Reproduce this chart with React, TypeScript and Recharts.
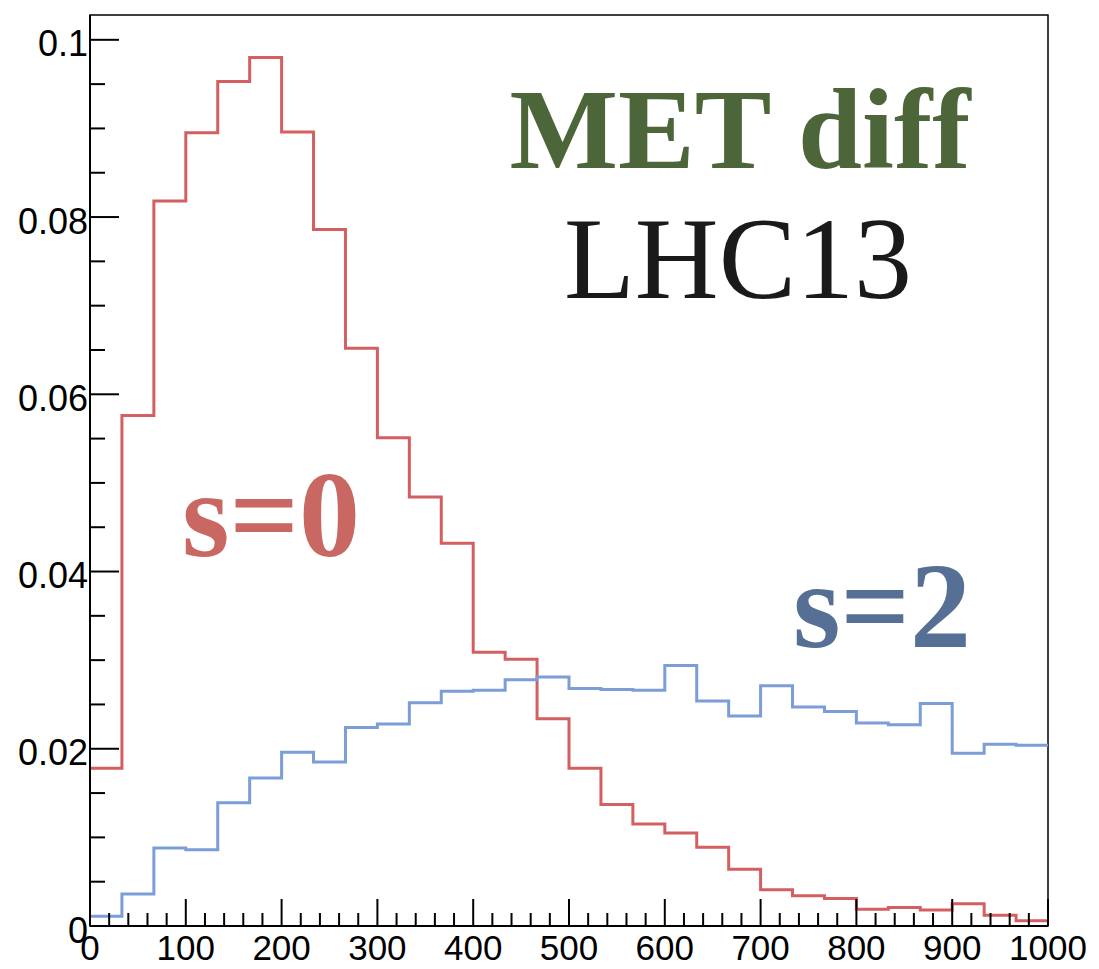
import React from "react";
import { LineChart, Line, XAxis, YAxis, ReferenceArea } from "recharts";

// Bin low edges (30 bins, 0-1000) plus the upper edge
const binEdges = [
  0, 33.333, 66.667, 100, 133.333, 166.667, 200, 233.333, 266.667, 300,
  333.333, 366.667, 400, 433.333, 466.667, 500, 533.333, 566.667, 600, 633.333,
  666.667, 700, 733.333, 766.667, 800, 833.333, 866.667, 900, 933.333, 966.667,
  1000,
];

// s=0 (red) bin contents
const s0Values = [
  0.0178, 0.0576, 0.0818, 0.0895, 0.0953, 0.0980, 0.0896, 0.0786, 0.0652, 0.0551,
  0.0484, 0.0432, 0.0309, 0.0301, 0.0234, 0.0178, 0.0137, 0.0115, 0.0105, 0.0089,
  0.0064, 0.0041, 0.0034, 0.0031, 0.0019, 0.0021, 0.0018, 0.0025, 0.0012, 0.0006,
];

// s=2 (blue) bin contents
const s2Values = [
  0.0011, 0.0036, 0.0088, 0.0086, 0.0139, 0.0167, 0.0196, 0.0185, 0.0224, 0.0228,
  0.0252, 0.0265, 0.0266, 0.0278, 0.0281, 0.0268, 0.0267, 0.0266, 0.0294, 0.0254,
  0.0237, 0.0271, 0.0247, 0.0242, 0.0229, 0.0227, 0.0251, 0.0195, 0.0205, 0.0204,
];

const yTicks = [
  0, 0.005, 0.01, 0.015, 0.02, 0.025, 0.03, 0.035, 0.04, 0.045, 0.05, 0.055,
  0.06, 0.065, 0.07, 0.075, 0.08, 0.085, 0.09, 0.095, 0.1,
];
const yMajorLabels: Record<string, string> = {
  "0": "0",
  "0.02": "0.02",
  "0.04": "0.04",
  "0.06": "0.06",
  "0.08": "0.08",
  "0.1": "0.1",
};

const xTicks = [
  0, 20, 40, 60, 80, 100, 120, 140, 160, 180, 200, 220, 240, 260, 280, 300,
  320, 340, 360, 380, 400, 420, 440, 460, 480, 500, 520, 540, 560, 580, 600,
  620, 640, 660, 680, 700, 720, 740, 760, 780, 800, 820, 840, 860, 880, 900,
  920, 940, 960, 980, 1000,
];
const xMajorLabels: Record<string, string> = {
  "0": "0", "100": "100", "200": "200", "300": "300", "400": "400",
  "500": "500", "600": "600", "700": "700", "800": "800", "900": "900",
  "1000": "1000",
};

const yMax = 0.1028;

const data = binEdges.map((x, i) => ({
  x,
  s0: s0Values[Math.min(i, s0Values.length - 1)],
  s2: s2Values[Math.min(i, s2Values.length - 1)],
}));

const tickFont = "'Liberation Sans', Arial, Helvetica, sans-serif";

const YTick = (props: any) => {
  const { x, y, payload } = props;
  const key = String(payload.value);
  const label = yMajorLabels[key];
  const major = label !== undefined;
  return (
    <g>
      <line x1={x} y1={y} x2={x + (major ? 29 : 15)} y2={y} stroke="#000" strokeWidth={2} />
      {major && (
        <text x={x - 2} y={y + 16.5} textAnchor="end" fontFamily={tickFont} fontSize={36} fill="#000">
          {label}
        </text>
      )}
    </g>
  );
};

const XTick = (props: any) => {
  const { x, y, payload } = props;
  const key = String(payload.value);
  const label = xMajorLabels[key];
  const major = label !== undefined;
  return (
    <g>
      <line x1={x} y1={y} x2={x} y2={y - (major ? 27 : 13)} stroke="#000" strokeWidth={2} />
      {major && (
        <text x={x} y={y + 34} textAnchor="middle" fontFamily={tickFont} fontSize={35} fill="#000">
          {label}
        </text>
      )}
    </g>
  );
};

const serif = "'Liberation Serif', 'Times New Roman', serif";

export default function App() {
  return (
    <div style={{ position: "relative", width: 1091, height: 961 }}>
      <LineChart
        width={1091}
        height={961}
        data={data}
        margin={{ top: 7, right: 51, bottom: 0, left: 0 }}
      >
        <XAxis
          dataKey="x"
          type="number"
          domain={[0, 1000]}
          ticks={xTicks}
          interval={0}
          height={43}
          tickSize={0}
          tickMargin={0}
          tickLine={false}
          axisLine={{ stroke: "#000", strokeWidth: 2 }}
          tick={XTick}
          allowDataOverflow
        />
        <YAxis
          type="number"
          domain={[0, yMax]}
          ticks={yTicks}
          interval={0}
          width={82}
          tickSize={0}
          tickMargin={0}
          tickLine={false}
          axisLine={{ stroke: "#000", strokeWidth: 2 }}
          tick={YTick}
          allowDataOverflow
        />
        <ReferenceArea
          x1={0}
          x2={1000}
          y1={0}
          y2={yMax}
          fill="none"
          fillOpacity={0}
          stroke="#000"
          strokeWidth={1.5}
          ifOverflow="visible"
        />
        <Line
          type="stepAfter"
          dataKey="s0"
          stroke="#d45f60"
          strokeWidth={3}
          dot={false}
          activeDot={false}
          isAnimationActive={false}
        />
        <Line
          type="stepAfter"
          dataKey="s2"
          stroke="#7b9dd8"
          strokeWidth={3}
          dot={false}
          activeDot={false}
          isAnimationActive={false}
        />
      </LineChart>
      <svg
        width={1091}
        height={961}
        style={{ position: "absolute", left: 0, top: 0, pointerEvents: "none" }}
      >
        <text x={732} y={160} textAnchor="middle" fontFamily={serif} fontWeight="bold" fontSize={115} fill="#4d6639">
          MET diff
        </text>
        <text x={730} y={290} textAnchor="middle" fontFamily={serif} fontSize={116} fill="#1a1a1a">
          LHC13
        </text>
        <text x={263} y={548} textAnchor="middle" fontFamily={serif} fontWeight="bold" fontSize={122} fill="#c96862">
          s=0
        </text>
        <text x={874} y={639} textAnchor="middle" fontFamily={serif} fontWeight="bold" fontSize={122} fill="#557094">
          s=2
        </text>
      </svg>
    </div>
  );
}
